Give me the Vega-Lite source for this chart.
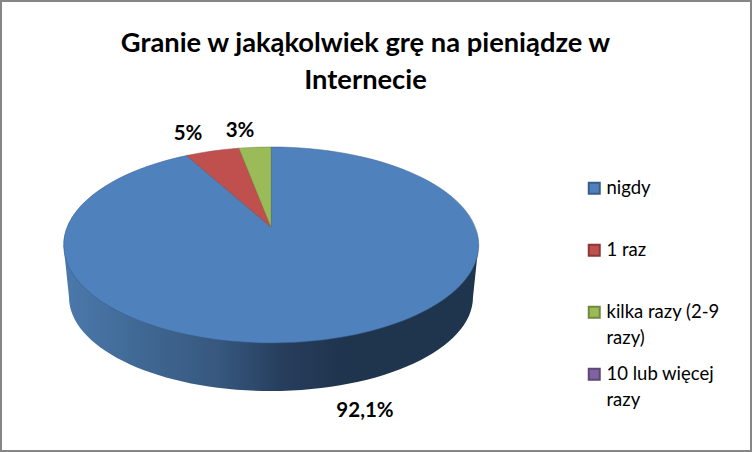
{
  "$schema": "https://vega.github.io/schema/vega-lite/v6.json",
  "width": 752,
  "height": 452,
  "padding": 0,
  "autosize": "none",
  "background": "white",
  "view": {"stroke": "#868686", "strokeWidth": 4},
  "config": {
    "legend": {
      "orient": "none",
      "legendX": 585,
      "legendY": 179,
      "title": null,
      "symbolType": "square",
      "symbolSize": 121,
      "symbolStrokeWidth": 2,
      "symbolOpacity": 1,
      "labelFont": "Lato",
      "labelFontSize": 18.5,
      "labelColor": "black",
      "labelLimit": 170,
      "labelOffset": 3,
      "rowPadding": 16,
      "gridAlign": "all"
    }
  },
  "title": {
    "text": ["Granie w jakąkolwiek grę na pieniądze w", "Internecie"],
    "font": "Lato",
    "fontSize": 27.3,
    "fontWeight": "bold",
    "color": "black",
    "lineHeight": 37,
    "anchor": "middle",
    "orient": "top",
    "dx": -10.5,
    "dy": 98
  },
  "data": {
    "values": [
      {"kategoria": "nigdy", "procent": 92.1, "etykieta": "92,1%"},
      {"kategoria": "1 raz", "procent": 5, "etykieta": "5%"},
      {"kategoria": "kilka razy (2-9 razy)", "procent": 3, "etykieta": "3%"},
      {"kategoria": "10 lub więcej razy", "procent": 0, "etykieta": ""}
    ]
  },
  "layer": [
    {
      "transform": [{"filter": "datum.kategoria === 'nigdy'"}],
      "mark": {
        "type": "point",
        "filled": true,
        "opacity": 1,
        "size": 4,
        "shape": "M-312.5,19 L102.5,19 L97,71 A202 94 0 0 1 -307,71 Z",
        "fill": {
          "gradient": "linear",
          "x1": 0, "y1": 0, "x2": 1, "y2": 0,
          "stops": [
            {"offset": 0, "color": "#4b79ad"},
            {"offset": 0.2, "color": "#3f6792"},
            {"offset": 0.37, "color": "#37587f"},
            {"offset": 0.53, "color": "#263d5c"},
            {"offset": 0.68, "color": "#1f344d"},
            {"offset": 1, "color": "#1f344d"}
          ]
        }
      },
      "encoding": {}
    },
    {
      "mark": {"type": "point", "filled": true, "opacity": 1, "size": 4, "strokeWidth": 0.5},
      "encoding": {
        "shape": {
          "field": "kategoria",
          "type": "nominal",
          "legend": null,
          "scale": {
            "domain": ["10 lub więcej razy", "kilka razy (2-9 razy)", "1 raz", "nigdy"],
            "range": [
              "M-105,1 L-105,1 Z",
              "M-105,1 L-137,-77.83 A207.5 98 0 0 1 -105,-79 Z",
              "M-105,1 L-189.3,-70.5 A207.5 98 0 0 1 -137,-77.83 Z",
              "M-105,1 L-105,-79 A207.5 98 0 1 1 -189.3,-70.5 Z"
            ]
          }
        },
        "fill": {
          "field": "kategoria",
          "type": "nominal",
          "scale": {
            "domain": ["nigdy", "1 raz", "kilka razy (2-9 razy)", "10 lub więcej razy"],
            "range": ["#4f81bd", "#c0504d", "#9bbb59", "#8064a2"]
          },
          "legend": {
            "encoding": {"labels": {"lineHeight": {"value": 26}}},
            "labelExpr": "datum.label === 'kilka razy (2-9 razy)' ? ['kilka razy (2-9', 'razy)'] : datum.label === '10 lub więcej razy' ? ['10 lub więcej', 'razy'] : datum.label"
          }
        },
        "stroke": {
          "field": "kategoria",
          "type": "nominal",
          "scale": {
            "domain": ["nigdy", "1 raz", "kilka razy (2-9 razy)", "10 lub więcej razy"],
            "range": ["#385d8a", "#8c3836", "#71893f", "#5c4776"]
          },
          "legend": {
            "encoding": {"labels": {"lineHeight": {"value": 26}}},
            "labelExpr": "datum.label === 'kilka razy (2-9 razy)' ? ['kilka razy (2-9', 'razy)'] : datum.label === '10 lub więcej razy' ? ['10 lub więcej', 'razy'] : datum.label"
          }
        }
      }
    },
    {
      "transform": [{"filter": "datum.kategoria === '1 raz'"}],
      "mark": {"type": "text", "font": "Lato", "fontWeight": "bold", "fontSize": 20.5, "color": "black", "dx": -188, "dy": -92},
      "encoding": {"text": {"field": "etykieta", "type": "nominal"}}
    },
    {
      "transform": [{"filter": "datum.kategoria === 'kilka razy (2-9 razy)'"}],
      "mark": {"type": "text", "font": "Lato", "fontWeight": "bold", "fontSize": 20.5, "color": "black", "dx": -136, "dy": -95},
      "encoding": {"text": {"field": "etykieta", "type": "nominal"}}
    },
    {
      "transform": [{"filter": "datum.kategoria === 'nigdy'"}],
      "mark": {"type": "text", "font": "Lato", "fontWeight": "bold", "fontSize": 20.5, "color": "black", "dx": -11, "dy": 185},
      "encoding": {"text": {"field": "etykieta", "type": "nominal"}}
    }
  ]
}
